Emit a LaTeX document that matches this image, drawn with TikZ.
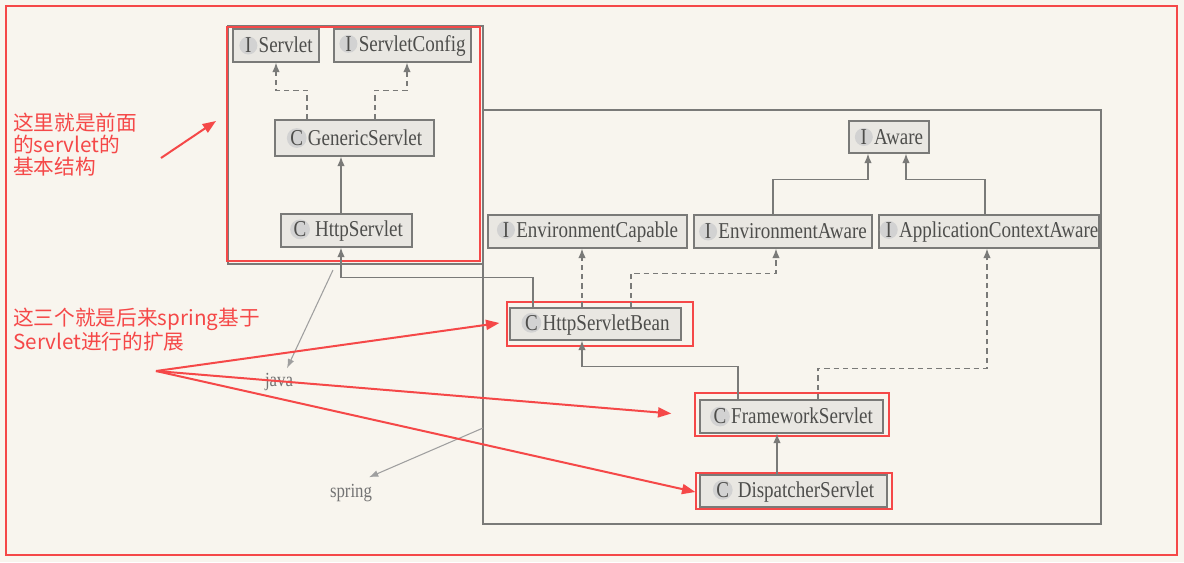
\documentclass[tikz,border=0pt]{standalone}
\usepackage{fontspec}
\setmainfont{Liberation Serif}[FakeStretch=0.84]
\newfontfamily\cjk{Noto Sans CJK SC}
\usetikzlibrary{arrows.meta}
\definecolor{bg}{HTML}{F8F5EE}
\definecolor{boxfill}{HTML}{E9E7E2}
\definecolor{boxdraw}{HTML}{7A7A78}
\definecolor{txt}{HTML}{4E4E4C}
\definecolor{redm}{HTML}{F54848}
\def\PX{0.75pt}
\newcommand\ico[1]{\tikz[baseline=(i.base)]\node[circle,fill=gray!35,inner sep=0pt,minimum size=18*0.75pt,text=txt](i){#1};\hspace{1pt}}
\begin{document}
\begin{tikzpicture}[x=0.75pt,y=-0.75pt,
  cls/.style={draw=boxdraw,fill=boxfill,line width=1pt,text=txt,font=\fontsize{17}{19}\selectfont,inner sep=0.5pt,minimum height=33*\PX},
  hl/.style={draw=redm,line width=1.6pt},
  pkg/.style={draw=boxdraw,line width=0.9pt},
  inh/.style={draw=boxdraw,line width=0.9pt,-{Latex[length=7pt,width=5.5pt]}},
  dep/.style={inh,dash pattern=on 4pt off 3pt},
  pkgarr/.style={draw=gray!75,line width=0.8pt,-{Latex[length=7pt,width=5pt]}},
  pkgname/.style={text=gray!90!black,font=\fontsize{15}{17}\selectfont,inner sep=2pt},
  redarr/.style={draw=redm,line width=1.5pt,-{Triangle[length=10pt,width=7.5pt]}},
  note/.style={text=redm,font=\cjk\fontsize{15.5}{16.5}\selectfont,align=left,anchor=north west,inner sep=0pt}
]
\fill[bg] (0,0) rectangle (1184,562);
\useasboundingbox (0,0) rectangle (1184,562);

% outer red frame
\draw[hl] (6,6) rectangle (1177,555);

% packages
\draw[pkg] (228,26) rectangle (483,264);
\draw[pkg] (483,110) rectangle (1101,524);

% left group
\node[cls,minimum width=86*\PX] (servlet) at (276,45.5) {\ico{I}Servlet};
\node[cls,minimum width=137*\PX] (sconfig) at (402.5,45.5) {\ico{I}ServletConfig};
\node[cls,minimum width=159*\PX,minimum height=36*\PX] (generic) at (354.5,138) {\ico{C}GenericServlet};
\node[cls,minimum width=131*\PX] (http) at (346.5,230.5) {\ico{C}\,HttpServlet};

% right group
\node[cls,minimum width=80*\PX,minimum height=32*\PX] (aware) at (889,137) {\ico{I}Aware};
\node[cls,minimum width=199*\PX] (envcap) at (587.5,231.5) {\ico{I}EnvironmentCapable};
\node[cls,minimum width=178*\PX] (envaware) at (783,231.5) {\ico{I}EnvironmentAware};
\node[cls,minimum width=218*\PX] (appctx) at (989,231.5) {\ico{I}ApplicationContextAware};
\node[cls,minimum width=171*\PX,minimum height=32*\PX] (hsb) at (595.5,324) {\ico{C}HttpServletBean};
\node[cls,minimum width=183*\PX] (fw) at (791.5,416.5) {\ico{C}FrameworkServlet};
\node[cls,minimum width=187*\PX,minimum height=32*\PX] (disp) at (793.5,491) {\ico{C}\,DispatcherServlet};

% red highlights
\draw[hl] (227,27) rectangle (480,261);
\draw[hl] (507,302) rectangle (693,346);
\draw[hl] (695,393) rectangle (889,436);
\draw[hl] (696,473) rectangle (892,509);

% connectors left group
\draw[dep] ([shift={(-47.5,0)}]generic.north) -- ++(0,-29) -| (servlet.south);
\draw[dep] ([shift={(20.5,0)}]generic.north) -- ++(0,-29) -| ([shift={(4.5,0)}]sconfig.south);
\draw[inh] ([shift={(-5.5,0)}]http.north) -- ([shift={(-5.5,0)}]http.north |- generic.south);

% connectors right group
\draw[inh] ([shift={(-62.5,0)}]hsb.north) -- ++(0,-30) -| ([shift={(-5.5,0)}]http.south);
\draw[dep] ([shift={(-13.5,0)}]hsb.north) -- ([shift={(-13.5,0)}]hsb.north |- envcap.south);
\draw[dep] ([shift={(35.5,0)}]hsb.north) -- ++(0,-34) -| ([shift={(-7,0)}]envaware.south);
\draw[inh] ([shift={(-10,0)}]envaware.north) -- ++(0,-35) -| ([shift={(-21,0)}]aware.south);
\draw[inh] ([shift={(-4,0)}]appctx.north) -- ++(0,-35) -| ([shift={(17,0)}]aware.south);
\draw[inh] ([shift={(-53.5,0)}]fw.north) -- ++(0,-33) -| ([shift={(-13.5,0)}]hsb.south);
\draw[dep] ([shift={(26.5,0)}]fw.north) -- ++(0,-31) -| ([shift={(-2,0)}]appctx.south);
\draw[inh] ([shift={(-16.5,0)}]disp.north) -- ([shift={(-16.5,0)}]disp.north |- fw.south);

% package labels
\node[pkgname] (java) at (279,382) {java};
\node[pkgname] (spring) at (351,493) {spring};
\coordinate (jstart) at (333,270);
\coordinate (sstart) at (483,428);
\draw[pkgarr] (jstart) -- ([shift={(8,-2)}]java.north);
\draw[pkgarr] (sstart) -- ([shift={(-6,-4)}]spring.north east);

% red notes
\node[note] (note1) at (13,113) {这里就是前面\\的servlet的\\基本结构};
\node[note] (note2) at (13,308) {这三个就是后来spring基于\\Servlet进行的扩展};
\coordinate (a1s) at (161,158);
\coordinate (a1e) at (216,121);
\draw[redarr] (a1s) -- (a1e);
\coordinate (a2s) at (156,371);
\draw[redarr] (a2s) -- ([shift={(-10,-1)}]hsb.west);
\draw[redarr] (a2s) -- ([shift={(-28,-3)}]fw.west);
\draw[redarr] (a2s) -- ([shift={(-4,1)}]disp.west);
\end{tikzpicture}
\end{document}
